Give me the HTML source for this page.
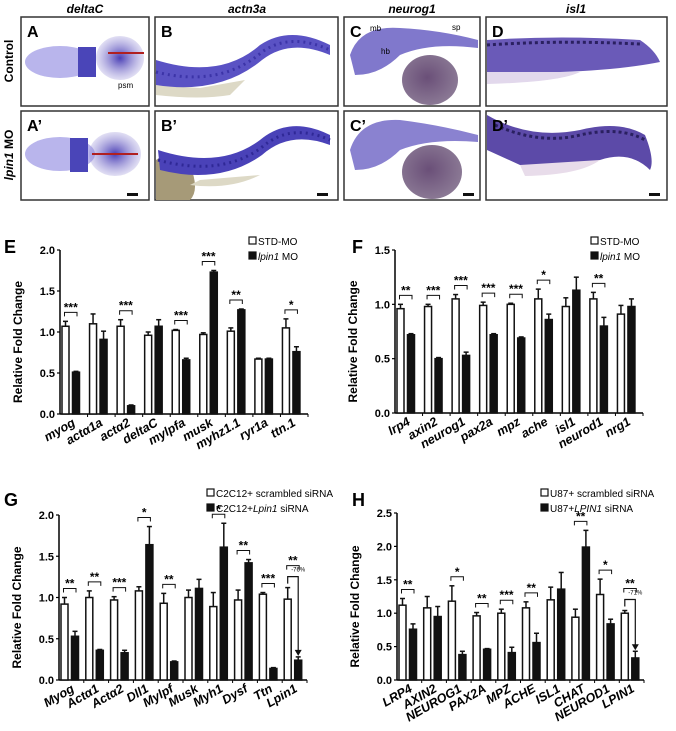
<!DOCTYPE html>
<html><head><meta charset="utf-8"><style>
body{margin:0;background:#fff;width:676px;height:731px;overflow:hidden;font-family:"Liberation Sans",sans-serif}
svg{display:block}
text{font-family:"Liberation Sans",sans-serif}
</style></head><body>
<svg id="fig" width="676" height="731" viewBox="0 0 676 731">
<defs>
<radialGradient id="purp" cx="50%" cy="50%" r="50%"><stop offset="0" stop-color="#4a3fb5"/><stop offset="1" stop-color="#9a92d8" stop-opacity="0.3"/></radialGradient>
<radialGradient id="yolk" cx="45%" cy="45%" r="55%"><stop offset="0" stop-color="#6a4f78"/><stop offset="1" stop-color="#8a7894"/></radialGradient>
</defs>
<g font-style="italic" font-weight="bold" font-size="12" text-anchor="middle">
<text x="85" y="13">deltaC</text>
<text x="247" y="13">actn3a</text>
<text x="412" y="13">neurog1</text>
<text x="576" y="13">isl1</text>
</g>
<text transform="translate(13,61) rotate(-90)" text-anchor="middle" font-weight="bold" font-size="12">Control</text>
<text transform="translate(13,155) rotate(-90)" text-anchor="middle" font-weight="bold" font-size="12"><tspan font-style="italic">lpin1</tspan> MO</text>

<g>
<rect x="21" y="17" width="128" height="89" fill="#fff" stroke="#333" stroke-width="1.5"/>
<ellipse cx="60" cy="62" rx="35" ry="16" fill="#b9b5ec"/>
<ellipse cx="120" cy="58" rx="24" ry="22" fill="url(#purp)"/>
<rect x="78" y="47" width="18" height="30" fill="#4a45b8"/>
<line x1="108" y1="53" x2="144" y2="53" stroke="#b02020" stroke-width="2"/>
<text x="27" y="37" font-weight="bold" font-size="16">A</text>
<text x="118" y="88" font-size="8">psm</text>
</g>
<g>
<rect x="21" y="111" width="128" height="89" fill="#fff" stroke="#333" stroke-width="1.5"/>
<ellipse cx="60" cy="154" rx="35" ry="17" fill="#b9b5ec"/>
<ellipse cx="115" cy="154" rx="26" ry="22" fill="url(#purp)"/>
<rect x="70" y="138" width="18" height="34" fill="#4a45b8"/>
<line x1="92" y1="154" x2="138" y2="154" stroke="#b02020" stroke-width="2"/>
<text x="27" y="131" font-weight="bold" font-size="16">A’</text>
<rect x="127" y="193" width="11" height="3" fill="#111"/>
</g>
<g>
<rect x="155" y="17" width="183" height="89" fill="#fff" stroke="#333" stroke-width="1.5"/>
<path d="M156 95 Q200 100 230 95 L245 80 L200 88 L156 85Z" fill="#ddd9c6"/>
<path d="M156 60 Q220 80 260 45 Q290 25 330 45 L330 55 Q290 38 262 60 Q220 95 156 85Z" fill="#5a52c4"/>
<path d="M156 72 Q220 88 262 52 Q290 32 330 50" fill="none" stroke="#3c34a8" stroke-width="3" stroke-dasharray="2 4"/>
<text x="161" y="37" font-weight="bold" font-size="16">B</text>
</g>
<g>
<rect x="155" y="111" width="183" height="89" fill="#fff" stroke="#333" stroke-width="1.5"/>
<path d="M156 160 Q170 150 190 165 Q200 190 190 200 L156 200Z" fill="#a69a78"/>
<path d="M190 185 Q230 190 260 175 L200 180Z" fill="#ddd9c6"/>
<path d="M158 150 Q220 170 260 140 Q290 115 330 135 L330 145 Q290 130 262 155 Q220 185 160 170Z" fill="#4a42b8"/>
<path d="M158 160 Q220 177 261 148 Q290 122 330 140" fill="none" stroke="#2f2896" stroke-width="3" stroke-dasharray="2 4"/>
<text x="161" y="131" font-weight="bold" font-size="16">B’</text>
<rect x="317" y="193" width="11" height="3" fill="#111"/>
</g>
<g>
<rect x="344" y="17" width="136" height="89" fill="#fff" stroke="#333" stroke-width="1.5"/>
<path d="M350 55 Q360 25 400 28 Q440 30 478 40 L478 48 Q430 42 400 55 Q380 75 355 75Z" fill="#8078cc"/>
<ellipse cx="430" cy="80" rx="28" ry="25" fill="url(#yolk)"/>
<text x="350" y="37" font-weight="bold" font-size="16">C</text>
<text x="370" y="31" font-size="8">mb</text><text x="381" y="54" font-size="8">hb</text><text x="452" y="30" font-size="8">sp</text>
</g>
<g>
<rect x="344" y="111" width="136" height="89" fill="#fff" stroke="#333" stroke-width="1.5"/>
<path d="M350 150 Q360 118 400 120 Q440 125 478 135 L478 142 Q430 138 400 150 Q380 170 355 170Z" fill="#8a82d0"/>
<ellipse cx="432" cy="172" rx="30" ry="27" fill="url(#yolk)"/>
<text x="350" y="131" font-weight="bold" font-size="16">C’</text>
<rect x="463" y="193" width="11" height="3" fill="#111"/>
</g>
<g>
<rect x="486" y="17" width="181" height="89" fill="#fff" stroke="#333" stroke-width="1.5"/>
<path d="M487 40 Q560 35 640 40 Q655 50 660 62 Q620 70 560 72 L487 72Z" fill="#6a5ab8"/>
<path d="M487 45 Q560 40 640 44" fill="none" stroke="#2a2060" stroke-width="3" stroke-dasharray="3 3"/>
<path d="M487 72 L580 72 Q560 82 487 84Z" fill="#e2d8ec"/>
<text x="492" y="37" font-weight="bold" font-size="16">D</text>
</g>
<g>
<rect x="486" y="111" width="181" height="89" fill="#fff" stroke="#333" stroke-width="1.5"/>
<path d="M487 115 Q530 140 580 130 Q620 120 645 135 Q655 160 650 170 Q630 150 600 160 Q560 170 520 165 L487 150Z" fill="#5c4aa8"/>
<path d="M495 125 Q540 145 580 135 Q620 126 645 140" fill="none" stroke="#2a2060" stroke-width="3" stroke-dasharray="3 3"/>
<path d="M520 165 L600 160 Q580 175 525 176Z" fill="#e8dcea"/>
<text x="492" y="131" font-weight="bold" font-size="16">D’</text>
<rect x="649" y="193" width="11" height="3" fill="#111"/>
</g>
<g id="charts"></g>
</svg>
<script>
// Chart E
const catsE=["myog","actα1a","actα2","deltaC","mylpfa","musk","myhz1.1","ryr1a","ttn.1"];
const ctrlE=[1.07,1.10,1.07,0.96,1.02,0.97,1.01,0.67,1.05];
const ctrlErrE=[0.06,0.12,0.08,0.04,0.01,0.02,0.04,0.01,0.11];
const kdE=[0.51,0.91,0.10,1.07,0.66,1.73,1.27,0.67,0.76];
const kdErrE=[0.01,0.10,0.01,0.08,0.02,0.02,0.01,0.01,0.06];
const sigE=["***","","***","","***","***","**","","*"];
const ticksE=["0.0","0.5","1.0","1.5","2.0"];
// Chart F
const catsF=["lrp4","axin2","neurog1","pax2a","mpz","ache","isl1","neurod1","nrg1"];
const ctrlF=[0.96,0.98,1.05,0.99,1.00,1.05,0.98,1.05,0.91];
const ctrlErrF=[0.04,0.02,0.04,0.03,0.01,0.09,0.08,0.06,0.08];
const kdF=[0.72,0.50,0.53,0.72,0.69,0.86,1.13,0.80,0.98];
const kdErrF=[0.01,0.01,0.03,0.01,0.01,0.05,0.12,0.08,0.07];
const sigF=["**","***","***","***","***","*","","**",""];
const ticksF=["0.0","0.5","1.0","1.5"];
// Chart G
const catsG=["Myog","Actα1","Actα2","Dll1","Mylpf","Musk","Myh1","Dysf","Ttn","Lpin1"];
const ctrlG=[0.92,1.00,0.97,1.08,0.93,1.00,0.89,0.97,1.04,0.98];
const ctrlErrG=[0.08,0.08,0.04,0.05,0.12,0.09,0.17,0.12,0.02,0.14];
const kdG=[0.53,0.36,0.33,1.64,0.22,1.11,1.61,1.42,0.14,0.24];
const kdErrG=[0.06,0.01,0.03,0.22,0.01,0.11,0.29,0.04,0.01,0.04];
const sigG=["**","**","***","*","**","","*","**","***","**"];
const ticksG=["0.0","0.5","1.0","1.5","2.0"];
// Chart H
const catsH=["LRP4","AXIN2","NEUROG1","PAX2A","MPZ","ACHE","ISL1","CHAT","NEUROD1","LPIN1"];
const ctrlH=[1.12,1.08,1.18,0.96,1.00,1.08,1.20,0.94,1.28,1.00];
const ctrlErrH=[0.10,0.17,0.23,0.05,0.06,0.09,0.19,0.12,0.23,0.04];
const kdH=[0.76,0.95,0.38,0.46,0.41,0.56,1.36,1.99,0.84,0.33];
const kdErrH=[0.08,0.15,0.05,0.01,0.08,0.14,0.25,0.25,0.07,0.10];
const sigH=["**","","*","**","***","**","","**","*","**"];
const ticksH=["0.0","0.5","1.0","1.5","2.0","2.5"];

const NS="http://www.w3.org/2000/svg";
const root=document.getElementById('charts');
function mk(tag,attrs,parent,txt){const e=document.createElementNS(NS,tag);for(const k in attrs)e.setAttribute(k,attrs[k]);if(txt!==undefined)e.textContent=txt;parent.appendChild(e);return e;}

function chart(id,cats,ctrl,ctrlErr,kd,kdErr,sig,ticks,x0,x1,y0,yTop,yMax,letter,lx,ly,leg,legX,legY,arrow){
  const g=mk('g',{},root);
  
  
  const ys=v=>y0-(v/yMax)*(y0-yTop);
  const n=cats.length, gw=(x1-x0)/n, bw=7;
  const pl=mk('text',{x:lx,y:ly,'font-size':18,'font-weight':'bold'},g,letter);
  
  
  const ya=mk('line',{x1:x0,y1:y0,x2:x0,y2:yTop,stroke:'#000','stroke-width':1.5},g);
  
  
  const xa=mk('line',{x1:x0,y1:y0,x2:x1,y2:y0,stroke:'#000','stroke-width':1.5},g);
  
  
  ticks.forEach(t=>{const y=ys(parseFloat(t));
    mk('line',{x1:x0-3,y1:y,x2:x0,y2:y,stroke:'#000','stroke-width':1.2},g);
    const tl=mk('text',{x:x0-5,y:y+4,'text-anchor':'end','font-size':11,'font-weight':'bold'},g,t);
    
    
  });
  const yt=mk('text',{transform:`translate(${x0-38},${(y0+yTop)/2+10}) rotate(-90)`,'text-anchor':'middle','font-size':12,'font-weight':'bold'},g,'Relative Fold Change');
  
  
  cats.forEach((c,i)=>{
    const s=x0+2+i*gw, xw=s, xb=s+bw+3.5;
    mk('line',{x1:x0+(i+1)*gw,y1:y0,x2:x0+(i+1)*gw,y2:y0+3,stroke:'#000'},g);
    [[xw,ctrl[i],ctrlErr[i],'#fff','ctrl'],[xb,kd[i],kdErr[i],'#111','kd']].forEach(([x,v,e,f,nm])=>{
      const top=ys(v+e);
      mk('line',{x1:x+bw/2,y1:ys(v),x2:x+bw/2,y2:top,stroke:'#111','stroke-width':1.5},g);
      mk('line',{x1:x+bw/2-2.5,y1:top,x2:x+bw/2+2.5,y2:top,stroke:'#111','stroke-width':1.5},g);
      const r=mk('rect',{x:x,y:ys(v),width:bw,height:y0-ys(v),fill:f,stroke:'#111','stroke-width':1.5},g);
      
      
    });
    if(sig[i]){
      const hi=Math.max(ctrl[i]+ctrlErr[i],kd[i]+kdErr[i]);
      let by=ys(hi)-9;
      if(arrow && i===n-1) by=Math.min(by,ys(ctrl[i]+ctrlErr[i])-22);
      const a=xw+bw/2-1,b=xb+bw/2+1;
      const br=mk('path',{d:`M${a} ${by+4}V${by}H${b}V${by+4}`,fill:'none',stroke:'#111','stroke-width':1},g);
      
      
      const st=mk('text',{x:(a+b)/2,y:by-1,'text-anchor':'middle','font-size':12,'font-weight':'bold'},g,sig[i]);
      
      
    }
    const cx=s+bw+2;
    const xl=mk('text',{transform:`translate(${cx+5},${y0+11}) rotate(-30)`,'text-anchor':'end','font-size':12.5,'font-weight':'bold','font-style':'italic'},g,c);
    
    
  });
  if(arrow){
    const i=n-1,s=x0+2+i*gw, xw=s+bw/2, xb=s+bw+3.5+bw/2;
    const ay=ys(ctrl[i]+ctrlErr[i])-4;
    mk('path',{d:`M${xw} ${ay}V${ay-7}H${xb}V${ys(kd[i]+kdErr[i])-6}`,fill:'none',stroke:'#111','stroke-width':1.2},g);
    mk('path',{d:`M${xb-3.5} ${ys(kd[i]+kdErr[i])-7}L${xb+3.5} ${ys(kd[i]+kdErr[i])-7}L${xb} ${ys(kd[i]+kdErr[i])-1}Z`,fill:'#111'},g);
    const at=mk('text',{x:xb,y:ay-12,'text-anchor':'middle','font-size':6},g,arrow);
    
    
  }
  leg.forEach((L,k)=>{
    const y=legY+k*15;
    const sw=mk('rect',{x:legX,y:y-8,width:7,height:7,fill:k?'#111':'#fff',stroke:'#111','stroke-width':1.2},g);
    
    
    const t=mk('text',{x:legX+9,y:y,'font-size':10},g);
    
    
    L.forEach(([txt,it])=>{mk('tspan',it?{'font-style':'italic'}:{},t,txt);});
  });
}
chart('e',catsE,ctrlE,ctrlErrE,kdE,kdErrE,sigE,ticksE,60,308,414,250,2.0,'E',4,253,
  [[['STD-MO',0]],[['lpin1',1],[' MO',0]]],249,245,null);
chart('f',catsF,ctrlF,ctrlErrF,kdF,kdErrF,sigF,ticksF,395,643,413,250,1.5,'F',352,253,
  [[['STD-MO',0]],[['lpin1',1],[' MO',0]]],591,245,null);
chart('g',catsG,ctrlG,ctrlErrG,kdG,kdErrG,sigG,ticksG,59,307,680,515,2.0,'G',4,506,
  [[['C2C12+ scrambled siRNA',0]],[['C2C12+',0],['Lpin1',1],[' siRNA',0]]],207,497,'-76%');
chart('h',catsH,ctrlH,ctrlErrH,kdH,kdErrH,sigH,ticksH,397,644,680,513,2.5,'H',352,506,
  [[['U87+ scrambled siRNA',0]],[['U87+',0],['LPIN1',1],[' siRNA',0]]],541,497,'-71%');
</script>
</body></html>
